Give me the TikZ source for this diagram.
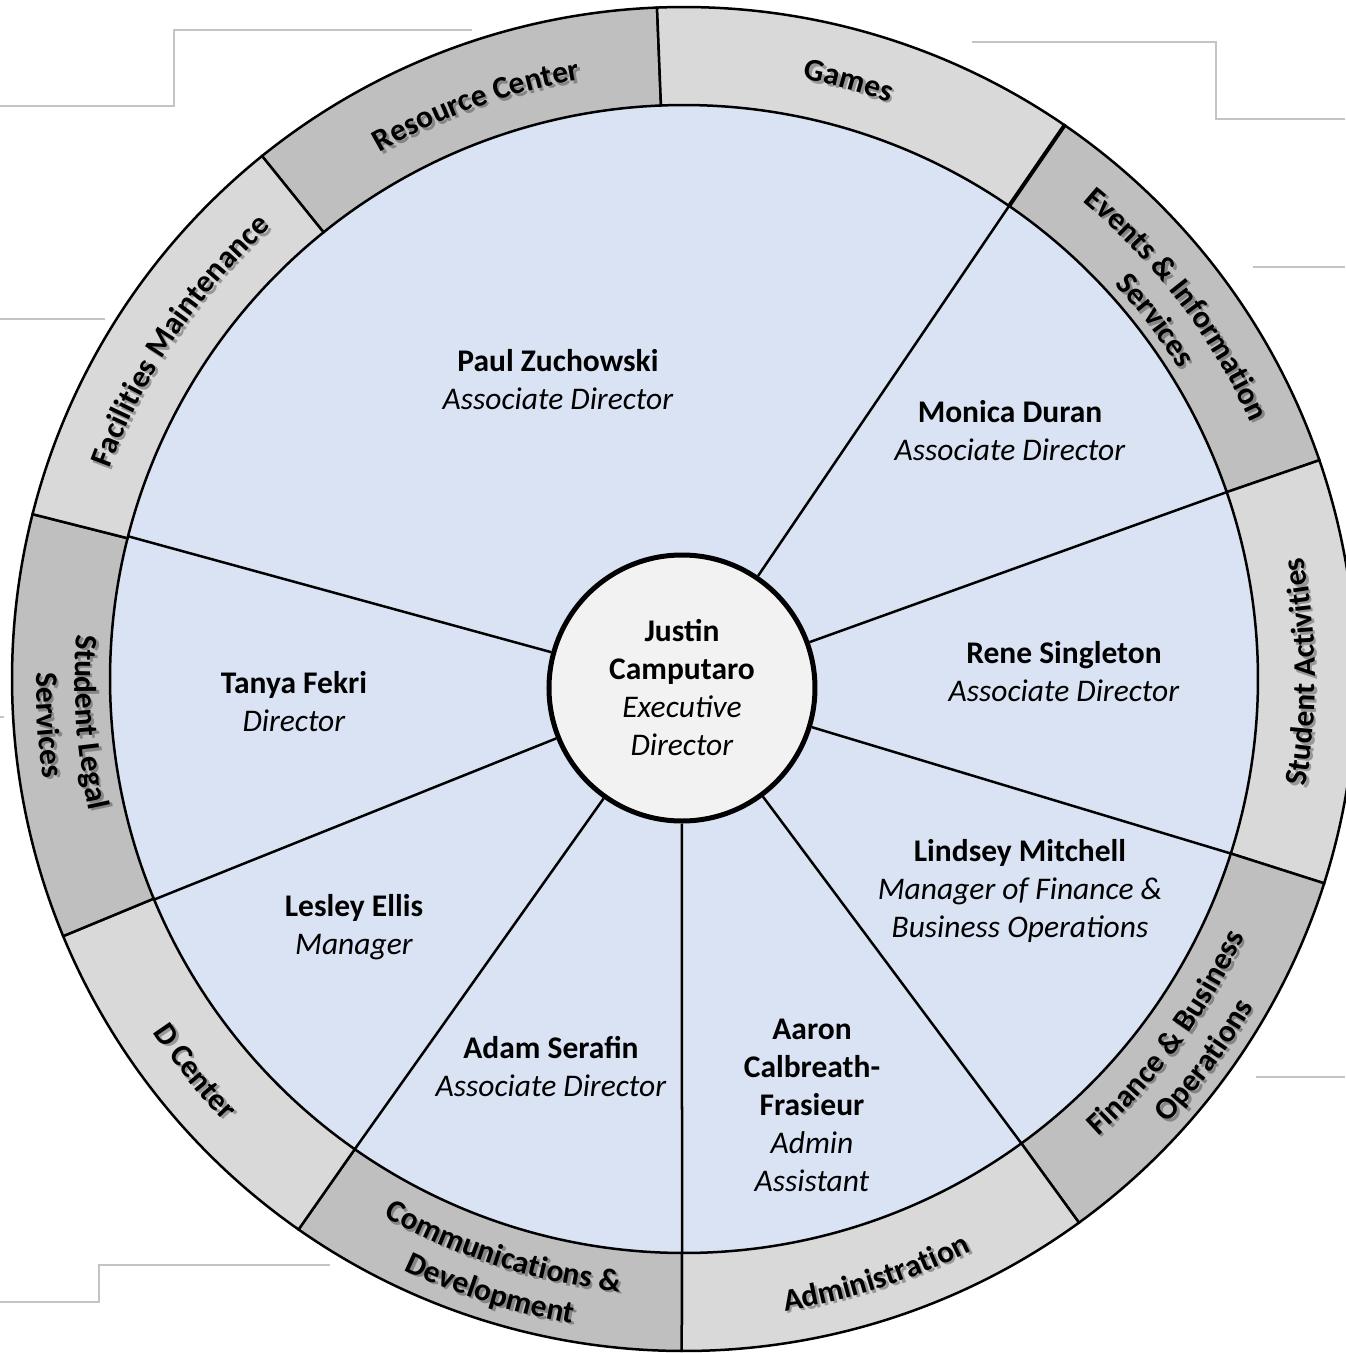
\documentclass[tikz,border=0pt]{standalone}
\usepackage{fontspec}
\setmainfont{Carlito}
\usepackage{tikz}
\usetikzlibrary{decorations.text}

\definecolor{blueC}{HTML}{DAE3F3}
\definecolor{ringD}{HTML}{BFBFBF}
\definecolor{ringL}{HTML}{D9D9D9}
\definecolor{centerC}{HTML}{F2F2F2}
\definecolor{strayC}{HTML}{C4C4C4}

\newcommand\ringfont{\fontsize{31.5}{38}\selectfont\bfseries}
% ring segment: start angle, end angle, style
\newcommand\ringseg[3]{\filldraw[#3] (#1:574) arc[start angle=#1,end angle=#2,radius=574] -- (#2:672) arc[start angle=#2,end angle=#1,radius=672] -- cycle;}
% curved label with its shadow: from angle, to angle, radius, text
\newcommand\ringtext[4]{%
  \begin{scope}[opacity=.3,shift={(2.5,-2.5)}]
  \path[decorate,decoration={text along path,text align=center,text={|\ringfont|#4}}] (#1:#3) arc[start angle=#1,end angle=#2,radius=#3];
  \end{scope}
  \path[decorate,decoration={text along path,text align=center,text={|\ringfont|#4}}] (#1:#3) arc[start angle=#1,end angle=#2,radius=#3];}

\tikzset{
  dark/.style={fill=ringD,draw=black,line width=2.5pt},
  light/.style={fill=ringL,draw=black,line width=2.5pt},
  spoke/.style={draw=black,line width=2.5pt},
  stray/.style={draw=strayC,line width=2pt},
  person/.style={align=center,inner sep=0pt,font=\fontsize{31.5}{38}\selectfont},
  execbox/.style={circle,draw=black,line width=5pt,fill=centerC,minimum size=266pt,inner sep=0pt,align=center,font=\fontsize{31.5}{38}\selectfont}
}

\begin{document}
\begin{tikzpicture}[x=1pt,y=1pt]
    \useasboundingbox (-684,-674) rectangle (661,679);

    % stray lines from the slide
    \begin{scope}[shift={(-684,679)},yscale=-1]
    \draw[stray] (0,106) -- (174,106) -- (174,30) -- (472,30);
    \draw[stray] (972,42) -- (1216,42) -- (1216,119) -- (1345,119);
    \draw[stray] (1253,267) -- (1345,267);
    \draw[stray] (0,319) -- (105,319);
    \draw[stray] (0,717) -- (4,717);
    \draw[stray] (1256,1077) -- (1345,1077);
    \draw[stray] (0,1302) -- (99,1302) -- (99,1265) -- (330,1265);
    \end{scope}

    \fill[blueC] (0,0) circle (574);

    % outer ring
    \ringseg{92.3}{128.9}{dark}
    \ringseg{55.5}{92.3}{light}
    \ringseg{19}{55.5}{dark}
    \ringseg{-17.7}{19}{light}
    \ringseg{-54}{-17.7}{dark}
    \ringseg{-90.2}{-54}{light}
    \ringseg{-125}{-90.2}{dark}
    \ringseg{-157.5}{-125}{light}
    \ringseg{165.8}{202.5}{dark}
    \ringseg{128.9}{165.8}{light}
    \draw[line width=4pt] (55.5:574) -- (55.5:672);

    \node[execbox] (exec) at (-2,-9) {\textbf{Justin}\\\textbf{Camputaro}\\\textit{Executive}\\\textit{Director}};

    \foreach \a in {55.5,19,-17.7,-54,-90.2,-125,-157.4,165.6}
      \draw[spoke] (exec) -- (\a:574);

    \node[person] (paul) at (-126,299) {\textbf{Paul Zuchowski}\\\textit{Associate Director}};
    \node[person] (monica) at (326,248) {\textbf{Monica Duran}\\\textit{Associate Director}};
    \node[person] (rene) at (380,7) {\textbf{Rene Singleton}\\\textit{Associate Director}};
    \node[person] (lindsey) at (336,-212) {\textbf{Lindsey Mitchell}\\\textit{Manager of Finance \&}\\\textit{Business Operations}};
    \node[person] (aaron) at (128,-426) {\textbf{Aaron}\\\textbf{Calbreath-}\\\textbf{Frasieur}\\\textit{Admin}\\\textit{Assistant}};
    \node[person] (adam) at (-133,-388) {\textbf{Adam Serafin}\\\textit{Associate Director}};
    \node[person] (lesley) at (-330,-248) {\textbf{Lesley Ellis}\\\textit{Manager}};
    \node[person] (tanya) at (-390,-23) {\textbf{Tanya Fekri}\\\textit{Director}};

    % ring labels
    \ringtext{128.2}{91.6}{608}{Resource Center}
    \ringtext{93}{56.2}{612}{Games}
    \ringtext{55.5}{19}{622}{Events {\&} Information}
    \ringtext{55.5}{19}{584}{Services}
    \ringtext{-17.7}{19}{631}{Student Activities}
    \ringtext{-54.4}{-18.1}{617}{Finance {\&} Business}
    \ringtext{-54.4}{-18.1}{657}{Operations}
    \ringtext{-90.2}{-54}{640}{Administration}
    \ringtext{-125}{-90.2}{616}{Communications {\&}}
    \ringtext{-125}{-90.2}{654}{Development}
    \ringtext{-157.5}{-125}{638}{D Center}
    \ringtext{165.8}{202.5}{609}{Student Legal}
    \ringtext{165.8}{202.5}{648}{Services}
    \ringtext{164.6}{127.7}{612}{Facilities Maintenance}
\end{tikzpicture}
\end{document}
